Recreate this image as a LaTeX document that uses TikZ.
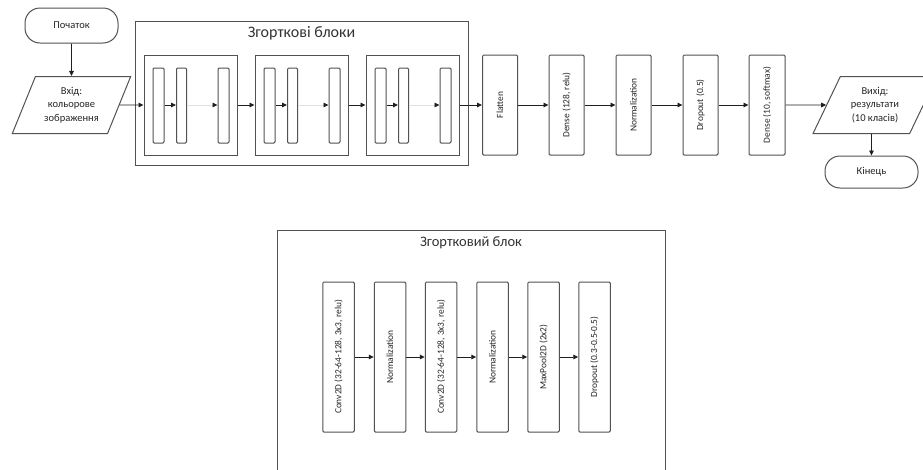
\documentclass[tikz,border=0pt]{standalone}
\usepackage{fontspec}
\setmainfont{Carlito}
\usetikzlibrary{arrows.meta,shapes.geometric}
\begin{document}
\begin{tikzpicture}[x=1pt,y=-1pt,
  box/.style={draw=black!68, line width=1pt, rounded corners=1.2pt, fill=white, inner sep=0pt},
  frame/.style={draw=black!68, line width=1pt, fill=white, inner sep=0pt},
  layer/.style={box, minimum width=35pt, minimum height=100pt},
  blayer/.style={box, minimum width=31.5pt, minimum height=150pt},
  thinbox/.style={box, minimum width=11pt, minimum height=75pt},
  blockbox/.style={frame, minimum width=93pt, minimum height=100pt},
  lbl/.style={rotate=90, font=\fontsize{9.4}{11}\selectfont, text=black!85},
  term/.style={draw=black!68, line width=1pt, fill=white, rounded corners=15pt, minimum width=93pt, align=center, text=black!85, font=\fontsize{10.5}{13.5}\selectfont},
  io/.style={trapezium, trapezium stretches=true, draw=black!68, line width=1pt, fill=white, align=center, inner sep=0pt, text=black!85, font=\fontsize{10.5}{13.5}\selectfont},
  ttl/.style={text=black!80, inner sep=0pt},
  arr/.style={-{Triangle[length=5pt,width=4.6pt]}, line width=0.9pt, draw=black!88},
  faintarr/.style={-{Triangle[length=5pt,width=4.6pt,black!88]}, line width=0.9pt, draw=black!12}
]
\useasboundingbox (0,0) rectangle (923,469);
\clip (0,0) rectangle (923,469);

% ---------- top row ----------
\node[term, minimum height=35pt] (start) at (71.5,25.5) {Початок};
\node[io, trapezium left angle=64, trapezium right angle=116, minimum width=119pt, minimum height=57pt] (in) at (71.5,105) {Вхід:\\кольорове\\зображення};

\node[frame, minimum width=333pt, minimum height=144pt] (big) at (301.5,93) {};
\node[ttl, font=\fontsize{16}{18}\selectfont] (bigt) at (301.5,33) {Згорткові блоки};

\foreach \i/\bx in {1/144,2/255,3/366}{
  \node[blockbox] (b\i) at (\bx+46.5,105) {};
  \node[thinbox] (b\i a) at (\bx+14.5,105.5) {};
  \node[thinbox, minimum width=10pt] (b\i b) at (\bx+37.5,105.5) {};
  \node[thinbox] (b\i c) at (\bx+79.5,105.5) {};
}
\foreach \i in {1,2,3}{
  \draw[arr] (b\i a.east |- 0,105) -- (b\i b.west |- 0,105);
  \draw[faintarr] (b\i b.east |- 0,105) -- (b\i c.west |- 0,105);
}

\node[layer] (fl) at (500,105) {};
\node[lbl] at (fl) {Flatten};
\node[layer] (d1) at (566.5,105) {};
\node[lbl] at (d1) {Dense (128, relu)};
\node[layer] (nm) at (633.5,105) {};
\node[lbl] at (nm) {Normalization};
\node[layer] (dr) at (700.5,105) {};
\node[lbl] at (dr) {Dropout (0.5)};
\node[layer, minimum width=36pt] (d2) at (767,105) {};
\node[lbl] at (d2) {Dense (10, softmax)};

\node[io, trapezium left angle=62, trapezium right angle=118, minimum width=124pt, minimum height=57pt] (out) at (875,105) {Вихід:\\результати\\(10 класів)};
\node[term, minimum height=32pt] (end) at (871.5,172) {Кінець};

\draw[arr] (start) -- (in);
\draw[arr] (in) -- (b1.west);
\draw[arr] (b1) -- (b2);
\draw[arr] (b2) -- (b3);
\draw[arr] (b3) -- (fl);
\draw[arr] (fl) -- (d1);
\draw[arr] (d1) -- (nm);
\draw[arr] (nm) -- (dr);
\draw[arr] (dr) -- (d2);
\draw[arr] (d2) -- (out);
\draw[arr] (out.south -| end) -- (end);

% ---------- bottom: one block ----------
\draw[frame] (277,230) rectangle (665,520);
\node[ttl, font=\fontsize{14.5}{16}\selectfont] (blt) at (471,243) {Згортковий блок};

\node[blayer] (c1) at (338.5,357) {};
\node[lbl] at (c1) {Conv2D (32-64-128, 3x3, relu)};
\node[blayer] (c2) at (390,357) {};
\node[lbl] at (c2) {Normalization};
\node[blayer] (c3) at (441,357) {};
\node[lbl] at (c3) {Conv2D (32-64-128, 3x3, relu)};
\node[blayer] (c4) at (492.5,357) {};
\node[lbl] at (c4) {Normalization};
\node[blayer] (c5) at (543.5,357) {};
\node[lbl] at (c5) {MaxPool2D (2x2)};
\node[blayer] (c6) at (594.5,357) {};
\node[lbl] at (c6) {Dropout (0.3-0.5-0.5)};

\draw[arr] (c1) -- (c2);
\draw[arr] (c2) -- (c3);
\draw[arr] (c3) -- (c4);
\draw[arr] (c4) -- (c5);
\draw[arr] (c5) -- (c6);
\end{tikzpicture}
\end{document}
